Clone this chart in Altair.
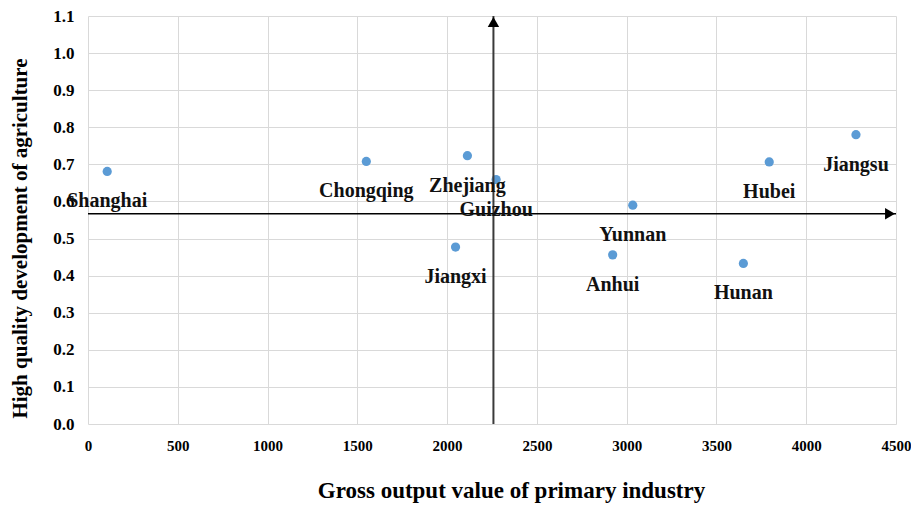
import altair as alt
import pandas as pd

provinces = ["Shanghai", "Chongqing", "Zhejiang", "Guizhou", "Jiangxi",
             "Yunnan", "Anhui", "Hunan", "Hubei", "Jiangsu"]
gross_output = [107, 1550, 2113, 2273, 2047, 3034, 2922, 3650, 3794, 4277]
hq_development = [0.681, 0.708, 0.7235, 0.659, 0.477, 0.590, 0.456, 0.433, 0.7066, 0.780]

x_ticks = [0, 500, 1000, 1500, 2000, 2500, 3000, 3500, 4000, 4500]
y_ticks = [0.0, 0.1, 0.2, 0.3, 0.4, 0.5, 0.6, 0.7, 0.8, 0.9, 1.0, 1.1]

cross_x = 2258      # vertical axis of the quadrant
cross_y = 0.5667    # horizontal axis of the quadrant
x_max = 4500
y_max = 1.1

FONT = "Liberation Serif"

df = pd.DataFrame({"province": provinces, "x": gross_output, "y": hq_development})

x_scale = alt.Scale(domain=[0, x_max], nice=False, zero=True)
y_scale = alt.Scale(domain=[0, y_max], nice=False, zero=True)

x_axis = alt.Axis(values=x_ticks, title="Gross output value of primary industry",
                  format="d", grid=True, domain=False, ticks=False,
                  labelOverlap=False, labelFlush=False,
                  labelPadding=14, labelFontSize=15, labelFont=FONT,
                  labelFontWeight="bold", labelColor="#000000",
                  titleFont=FONT, titleFontSize=23, titleFontWeight="bold",
                  titleColor="#000000", titleX=423, titleY=73,
                  titleBaseline="alphabetic", titleAlign="center")
y_axis = alt.Axis(values=y_ticks, title="High quality development of agriculture",
                  format=".1f", grid=True, domain=False, ticks=False,
                  labelOverlap=False, labelFlush=False,
                  labelPadding=14, labelFontSize=17, labelFont=FONT,
                  labelFontWeight="bold", labelColor="#000000",
                  titleFont=FONT, titleFontSize=21, titleFontWeight="bold",
                  titleColor="#000000", titleX=-62, titleY=222,
                  titleAngle=-90, titleBaseline="alphabetic", titleAlign="center")

def X():
    return alt.X("x:Q", scale=x_scale, axis=x_axis)

def Y():
    return alt.Y("y:Q", scale=y_scale, axis=y_axis)

points = alt.Chart(df).mark_circle(color="#5b9bd5", size=85, opacity=1).encode(x=X(), y=Y())

labels = alt.Chart(df).mark_text(font=FONT, fontSize=20, fontWeight="bold", color="#111111",
                                 dy=30, align="center", baseline="middle").encode(
    x=X(), y=Y(), text="province:N")

hline_df = pd.DataFrame({"x": [0], "x2": [x_max], "y": [cross_y]})
vline_df = pd.DataFrame({"x": [cross_x], "y": [0], "y2": [y_max]})

hline = alt.Chart(hline_df).mark_rule(color="#000000", strokeWidth=1.6, clip=False).encode(
    x=X(), x2="x2:Q", y=Y())
vline = alt.Chart(vline_df).mark_rule(color="#3a3a3a", strokeWidth=2, clip=False).encode(
    x=X(), y=Y(), y2="y2:Q")

hhead_df = pd.DataFrame({"x": [x_max], "y": [cross_y]})
vhead_df = pd.DataFrame({"x": [cross_x], "y": [y_max]})

hhead = alt.Chart(hhead_df).mark_point(shape="triangle-right", filled=True, color="#000000",
                                       size=130, opacity=1, xOffset=-6, clip=False).encode(
    x=X(), y=Y())
vhead = alt.Chart(vhead_df).mark_point(shape="triangle-up", filled=True, color="#000000",
                                       size=130, opacity=1, yOffset=6, clip=False).encode(
    x=X(), y=Y())

chart = alt.layer(points, vline, hline, hhead, vhead, labels).properties(
    width=808, height=408,
    autosize=alt.AutoSizeParams(type="none"),
    padding={"left": 80, "top": 8, "right": 15, "bottom": 80},
).configure_view(stroke=None).configure_axis(gridColor="#d9d9d9", gridWidth=1)

chart.save("out.html", embed_options={"renderer": "svg", "actions": False})
